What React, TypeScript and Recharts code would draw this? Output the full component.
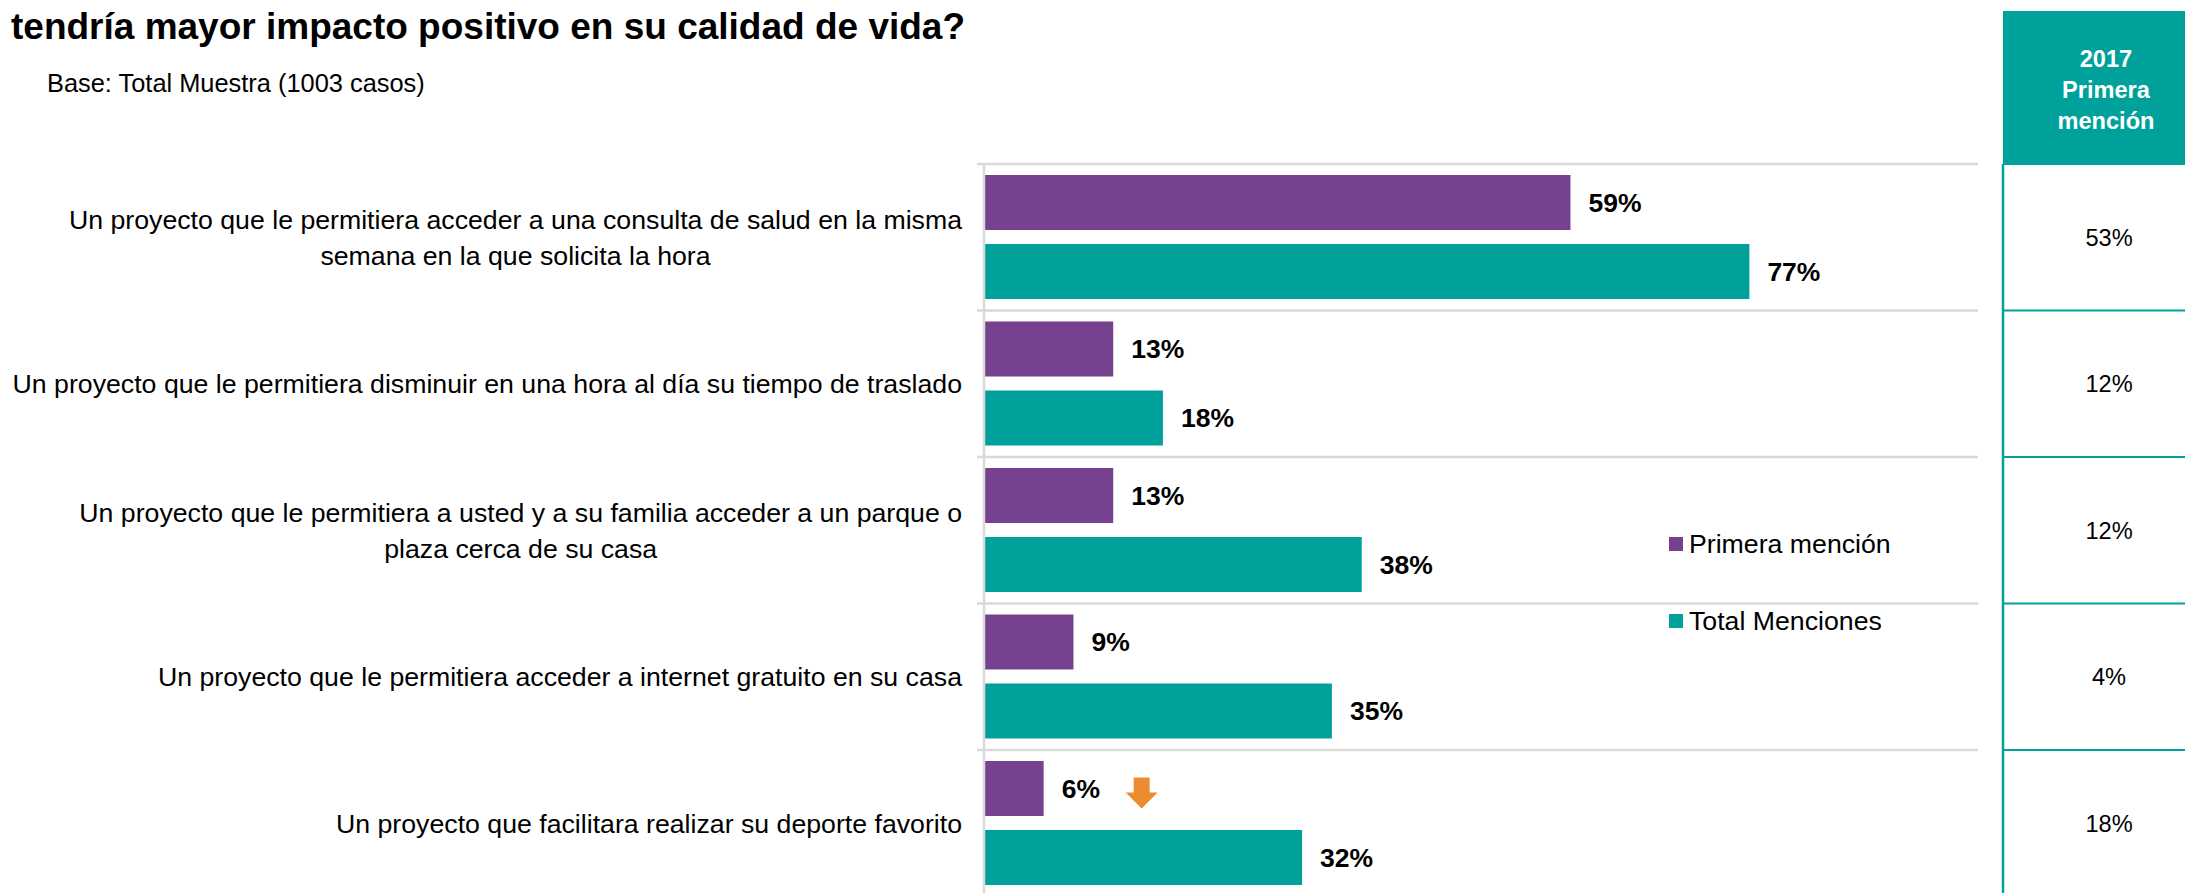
import React from 'react';
import { BarChart, Bar, XAxis, YAxis, Legend, LabelList } from 'recharts';

// ---------- data ----------
const categories = [
  'Un proyecto que le permitiera acceder a una consulta de salud en la misma\nsemana en la que solicita la hora',
  'Un proyecto que le permitiera disminuir en una hora al día su tiempo de traslado',
  'Un proyecto que le permitiera a usted y a su familia acceder a un parque o\nplaza cerca de su casa',
  'Un proyecto que le permitiera acceder a internet gratuito en su casa',
  'Un proyecto que facilitara realizar su deporte favorito',
];
const primeraMencion = [59, 13, 13, 9, 6];
const totalMenciones = [77, 18, 38, 35, 32];
const primera2017 = [53, 12, 12, 4, 18];
const trendVs2017 = ['', '', '', '', 'down'];
const seriesNames = ['Primera mención', 'Total Menciones'];
const tableHeader = ['2017', 'Primera', 'mención'];
const titleText = 'tendría mayor impacto positivo en su calidad de vida?';
const subtitleText = 'Base: Total Muestra (1003 casos)';

const data = categories.map((name, i) => ({
  name,
  primera: primeraMencion[i],
  total: totalMenciones[i],
}));

// ---------- styles ----------
const PURPLE = '#76428F';
const TEAL = '#00A19A';
const ORANGE = '#EC8B2F';
const GRID = '#D9D9D9';
const FONT = '"Liberation Sans", Arial, Helvetica, sans-serif';
const LABEL_FS = 26.7;
const PLOT_W = 994;

let _ctx: CanvasRenderingContext2D | null = null;
function measure(text: string, font: string): number {
  if (!_ctx) _ctx = document.createElement('canvas').getContext('2d');
  if (!_ctx) return text.length * 13;
  _ctx.font = font;
  return _ctx.measureText(text).width;
}

const CategoryTick = (props: any) => {
  const { x, y, payload } = props;
  const lines = String(payload.value).split('\n');
  const lh = 36;
  const font = `${LABEL_FS}px "Liberation Sans"`;
  const blockW = Math.max(...lines.map((l) => measure(l, font)));
  const multi = lines.length > 1;
  return (
    <g>
      {lines.map((l, i) => (
        <text
          key={i}
          x={multi ? x - blockW / 2 : x}
          y={y + (i - (lines.length - 1) / 2) * lh}
          dy="0.35em"
          textAnchor={multi ? 'middle' : 'end'}
          fontSize={LABEL_FS}
          fontFamily={FONT}
          fill="#000"
        >
          {l}
        </text>
      ))}
    </g>
  );
};

// right-hand table axis: draws 2017 value, category separators (grey in plot, teal in table)
const TableTick = (props: any) => {
  const { x, y, index } = props;
  const count = Number(props.visibleTicksCount) || categories.length;
  const axisH = Number(props.height) || 732.5;
  const half = axisH / count / 2;
  const idx = Number(index);
  const bounds = idx === count - 1 ? [y - half, y + half] : [y - half];
  return (
    <g>
      {bounds.map((by, k) => (
        <g key={k}>
          <line x1={x - PLOT_W - 7} x2={x} y1={by} y2={by} stroke={GRID} strokeWidth={2.5} />
          <line x1={x + 25} x2={x + 207} y1={by} y2={by} stroke={TEAL} strokeWidth={2} />
        </g>
      ))}
      <text x={x + 131} y={y} dy="0.35em" textAnchor="middle" fontSize={23.6} fontFamily={FONT} fill="#000">
        {primera2017[idx]}%
      </text>
    </g>
  );
};

const makeLabel = (withTrend: boolean) => (props: any) => {
  const vb = props.viewBox && props.viewBox.width !== undefined ? props.viewBox : props;
  const x = Number(vb.x);
  const y = Number(vb.y);
  const width = Number(vb.width);
  const height = Number(vb.height);
  const lx = x + width + 18;
  const cy = y + height / 2;
  const idx = props.index;
  const showArrow = withTrend && idx !== undefined && trendVs2017[idx] === 'down';
  const ax = lx + 80;
  return (
    <g>
      <text x={lx} y={cy} dy="0.35em" fontSize={26.5} fontWeight="bold" fontFamily={FONT} fill="#000">
        {props.value}%
      </text>
      {showArrow && (
        <polygon
          points={`${ax - 8},${cy - 11} ${ax + 8},${cy - 11} ${ax + 8},${cy + 4} ${ax + 16},${cy + 4} ${ax},${cy + 20} ${ax - 16},${cy + 4} ${ax - 8},${cy + 4}`}
          fill={ORANGE}
        />
      )}
    </g>
  );
};

const LegendContent = (props: any) => {
  const payload =
    props.payload && props.payload.length
      ? props.payload
      : seriesNames.map((n, i) => ({ value: n, color: i === 0 ? PURPLE : TEAL }));
  return (
    <div style={{ display: 'flex', flexDirection: 'column' }}>
      {payload.map((p: any, i: number) => (
        <div key={i} style={{ display: 'flex', alignItems: 'center', height: 30, marginBottom: i === 0 ? 47 : 0 }}>
          <span style={{ display: 'inline-block', width: 14, height: 14, background: p.color, marginRight: 6 }} />
          <span style={{ fontSize: LABEL_FS, fontFamily: FONT, color: '#000', lineHeight: '30px', whiteSpace: 'nowrap' }}>
            {p.value}
          </span>
        </div>
      ))}
    </div>
  );
};

export default function App() {
  return (
    <div
      style={{
        position: 'absolute',
        left: 0,
        top: 0,
        width: 2185,
        height: 893,
        overflow: 'hidden',
        background: '#fff',
        fontFamily: FONT,
      }}
    >
      <BarChart
        width={2185}
        height={920}
        data={data}
        layout="vertical"
        margin={{ top: 164, right: 0, bottom: 23.5, left: 0 }}
        barSize={55}
        barGap={14}
      >
        <XAxis type="number" domain={[0, 100]} hide />
        <YAxis
          yAxisId="cat"
          type="category"
          dataKey="name"
          orientation="left"
          width={984}
          tickLine={false}
          tickSize={0}
          tickMargin={22}
          axisLine={{ stroke: GRID, strokeWidth: 2.5 }}
          interval={0}
          tick={<CategoryTick />}
        />
        <YAxis
          yAxisId="table"
          type="category"
          dataKey="name"
          orientation="right"
          width={207}
          tickLine={false}
          tickSize={0}
          tickMargin={0}
          axisLine={false}
          interval={0}
          tick={<TableTick />}
        />
        <Legend
          layout="vertical"
          align="center"
          verticalAlign="middle"
          content={<LegendContent />}
          wrapperStyle={{ left: 1669, top: 529, width: 'auto', height: 'auto' }}
        />
        <Bar yAxisId="cat" dataKey="primera" name={seriesNames[0]} fill={PURPLE} isAnimationActive={false}>
          <LabelList dataKey="primera" content={makeLabel(true)} />
        </Bar>
        <Bar yAxisId="cat" dataKey="total" name={seriesNames[1]} fill={TEAL} isAnimationActive={false}>
          <LabelList dataKey="total" content={makeLabel(false)} />
        </Bar>
      </BarChart>
      <svg width={2185} height={893} style={{ position: 'absolute', left: 0, top: 0, pointerEvents: 'none' }}>
        <text x={11} y={39} fontSize={37} fontWeight="bold" fontFamily={FONT} fill="#000">
          {titleText}
        </text>
        <text x={47} y={92} fontSize={25.4} fontFamily={FONT} fill="#000">
          {subtitleText}
        </text>
        <rect x={2003} y={11} width={182} height={153} fill={TEAL} />
        {tableHeader.map((t, i) => (
          <text
            key={t}
            x={2106}
            y={58.5 + i * 31}
            dy="0.35em"
            textAnchor="middle"
            fontSize={23.6}
            fontWeight="bold"
            fontFamily={FONT}
            fill="#fff"
          >
            {t}
          </text>
        ))}
        <line x1={2003} x2={2003} y1={164} y2={893} stroke={TEAL} strokeWidth={2.5} />
      </svg>
    </div>
  );
}
